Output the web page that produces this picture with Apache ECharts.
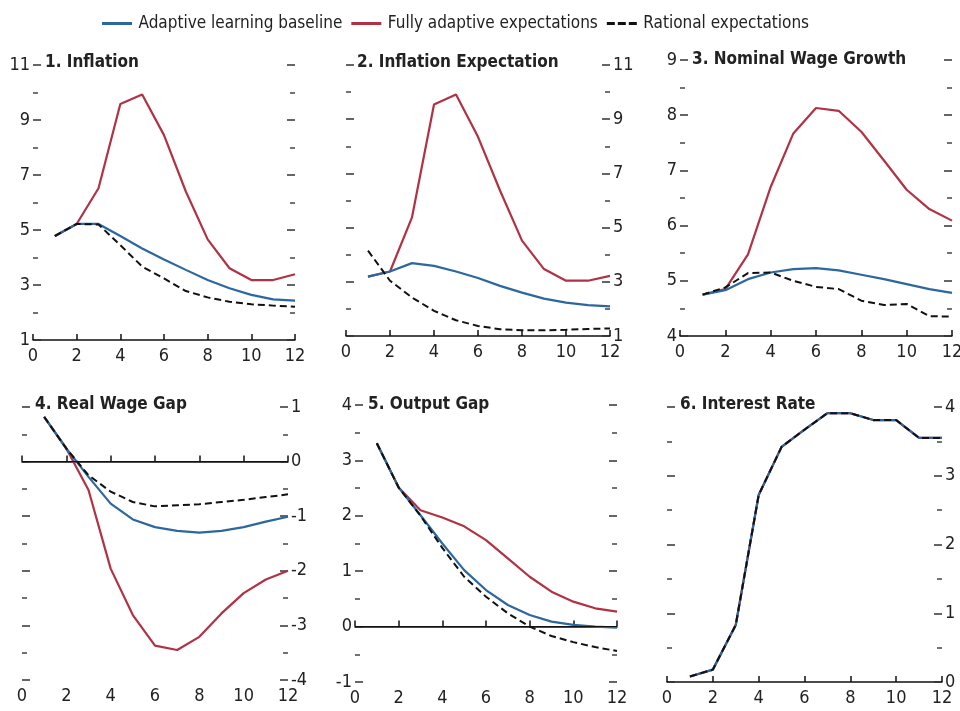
<!DOCTYPE html>
<html><head><meta charset="utf-8">
<script src="https://cdn.jsdelivr.net/npm/echarts@6/dist/echarts.min.js"></script>
<style>html,body{margin:0;padding:0;background:#fff}#c{width:960px;height:711px}</style>
</head><body><div id="c"></div>
<script>
// ---------- DATA ----------
const periods = [1,2,3,4,5,6,7,8,9,10,11,12];
const seriesNames = ['Adaptive learning baseline','Fully adaptive expectations','Rational expectations'];
const xTicks = [0,2,4,6,8,10,12];

const panelTitles = ['1. Inflation','2. Inflation Expectation','3. Nominal Wage Growth','4. Real Wage Gap','5. Output Gap','6. Interest Rate'];

// 1. Inflation
const inflBaseline = [4.78,5.22,5.22,4.78,4.33,3.93,3.55,3.18,2.88,2.64,2.48,2.43];
const inflAdaptive = [4.78,5.22,6.52,9.58,9.93,8.45,6.40,4.66,3.61,3.18,3.18,3.39];
const inflRational = [4.78,5.22,5.20,4.45,3.67,3.24,2.78,2.55,2.39,2.30,2.25,2.21];
// 2. Inflation Expectation
const expBaseline = [3.19,3.38,3.69,3.59,3.38,3.14,2.85,2.60,2.38,2.23,2.14,2.09];
const expAdaptive = [3.19,3.38,5.38,9.54,9.91,8.35,6.37,4.52,3.47,3.04,3.04,3.22];
const expRational = [4.15,3.04,2.42,1.93,1.58,1.37,1.25,1.21,1.21,1.23,1.26,1.28];
// 3. Nominal Wage Growth
const wageBaseline = [4.75,4.83,5.03,5.15,5.21,5.23,5.19,5.11,5.03,4.94,4.85,4.78];
const wageAdaptive = [4.75,4.85,5.48,6.70,7.67,8.13,8.08,7.70,7.18,6.65,6.30,6.09];
const wageRational = [4.75,4.88,5.14,5.15,5.00,4.89,4.85,4.64,4.56,4.58,4.36,4.35];
// 4. Real Wage Gap
const rwgBaseline = [0.82,0.24,-0.28,-0.77,-1.06,-1.20,-1.27,-1.30,-1.27,-1.20,-1.10,-1.01];
const rwgAdaptive = [0.82,0.24,-0.52,-1.96,-2.81,-3.37,-3.45,-3.21,-2.78,-2.41,-2.16,-2.00];
const rwgRational = [0.82,0.24,-0.25,-0.55,-0.74,-0.82,-0.80,-0.78,-0.74,-0.70,-0.65,-0.60];
// 5. Output Gap
const gapBaseline = [3.31,2.51,2.01,1.50,1.02,0.66,0.39,0.21,0.09,0.03,0.00,-0.02];
const gapAdaptive = [3.31,2.51,2.10,1.97,1.81,1.56,1.23,0.90,0.63,0.45,0.33,0.27];
const gapRational = [3.31,2.51,2.00,1.42,0.90,0.54,0.24,0.00,-0.17,-0.28,-0.37,-0.44];
// 6. Interest Rate
const rateBaseline = [0.08,0.18,0.83,2.72,3.42,3.67,3.91,3.91,3.81,3.81,3.55,3.55];
const rateAdaptive = [0.08,0.18,0.83,2.72,3.42,3.67,3.91,3.91,3.81,3.81,3.55,3.55];
const rateRational = [0.08,0.18,0.83,2.72,3.42,3.67,3.91,3.91,3.81,3.81,3.55,3.55];

// y-axis ranges [min, max, interval]
const yRanges = [[1,11,2],[1,11,2],[4,9,1],[-4,1,1],[-1,4,1],[0,4,1]];

// ---------- LAYOUT / STYLE ----------
const FONT = "'Liberation Sans Narrow','DejaVu Sans Condensed','Arial Narrow',sans-serif";
const BLUE = '#2c679f', RED = '#b03244', BLACK = '#111';
const grids = [
  {left:33, top:65, width:262, height:275},
  {left:346, top:65, width:264, height:271},
  {left:680, top:60, width:272, height:276},
  {left:22, top:407, width:266, height:273},
  {left:355, top:405, width:262, height:277},
  {left:667, top:407, width:275, height:275}
];
const labelSide = ['left','right','left','right','left','right'];
const zeroLine = [false,false,false,true,true,false];
const titlePos = [[45,64],[357,64],[692,61],[35,406],[368,406],[680,406]];

const panels = [
  [inflBaseline,inflAdaptive,inflRational],
  [expBaseline,expAdaptive,expRational],
  [wageBaseline,wageAdaptive,wageRational],
  [rwgBaseline,rwgAdaptive,rwgRational],
  [gapBaseline,gapAdaptive,gapRational],
  [rateBaseline,rateAdaptive,rateRational]
];

function pairs(arr){ return periods.map((p,i)=>[p,arr[i]]); }

const SOLID_ICON = 'path://M0,0H30V3H0Z';
const DASH_ICON = 'path://M0,0H8V3H0Z M11,0H19V3H11Z M22,0H30V3H22Z';

const option = {
  animation:false,
  backgroundColor:'#fff',
  textStyle:{fontFamily:FONT},
  legend:{
    top:10, left:97, itemGap:9, itemWidth:33, itemHeight:3,
    textStyle:{fontFamily:FONT, fontSize:17, color:'#222'},
    data:[
      {name:seriesNames[0], icon:SOLID_ICON, itemStyle:{color:BLUE}},
      {name:seriesNames[1], icon:SOLID_ICON, itemStyle:{color:RED}},
      {name:seriesNames[2], icon:DASH_ICON, itemStyle:{color:BLACK}}
    ]
  },
  title:[], grid:[], xAxis:[], yAxis:[], series:[]
};

panels.forEach((pd, k) => {
  option.grid.push(Object.assign({outerBoundsMode:'none', containLabel:false}, grids[k]));
  option.title.push({
    text: panelTitles[k], left: titlePos[k][0], top: titlePos[k][1]-10,
    padding:0,
    textStyle:{fontFamily:FONT, fontSize:17, fontWeight:'bold', color:'#222'}
  });
  option.xAxis.push({
    type:'value', gridIndex:k, min:0, max:12, interval:2,
    axisLine:{show:true, lineStyle:{color:'#111', width:1.5}},
    axisTick:{show:true, inside:true, length:6, lineStyle:{color:'#111', width:1.5}},
    axisLabel:{show:true, margin:7, fontFamily:FONT, fontSize:18, color:'#222'},
    splitLine:{show:false}
  });
  const [mn,mx,iv] = yRanges[k];
  ['left','right'].forEach(side => {
    option.yAxis.push({
      type:'value', gridIndex:k, position:side, min:mn, max:mx, interval:iv,
      axisLine:{show:false},
      axisTick:{show:true, inside:true, length:8, lineStyle:{color:'#333', width:1.5}},
      minorTick:{show:true, splitNumber:2, length:5, lineStyle:{color:'#444', width:1.5}},
      axisLabel:{show: side===labelSide[k], margin:3, fontFamily:FONT, fontSize:18, color:'#222',
        showMinLabel:true, showMaxLabel:true},
      splitLine:{show:false}, minorSplitLine:{show:false}
    });
  });
  const yIdx = k*2;
  const [b,a,r] = pd;
  option.series.push({
    name:seriesNames[1], type:'line', xAxisIndex:k, yAxisIndex:yIdx, data:pairs(a),
    symbol:'none', lineStyle:{color:RED, width:2.2}, itemStyle:{color:RED}, z:2,
    markLine: zeroLine[k] ? {silent:true, symbol:'none', label:{show:false},
      lineStyle:{color:'#111', width:1, type:'solid'}, data:[{yAxis:0}]} : undefined
  });
  option.series.push({
    name:seriesNames[0], type:'line', xAxisIndex:k, yAxisIndex:yIdx, data:pairs(b),
    symbol:'none', lineStyle:{color:BLUE, width:2.2}, itemStyle:{color:BLUE}, z:3
  });
  option.series.push({
    name:seriesNames[2], type:'line', xAxisIndex:k, yAxisIndex:yIdx, data:pairs(r),
    symbol:'none', lineStyle:{color:BLACK, width:2, type:[7,4]}, itemStyle:{color:BLACK}, z:4
  });
});

const chart = echarts.init(document.getElementById('c'), null, {renderer:'canvas'});
chart.setOption(option);
</script>
</body></html>
